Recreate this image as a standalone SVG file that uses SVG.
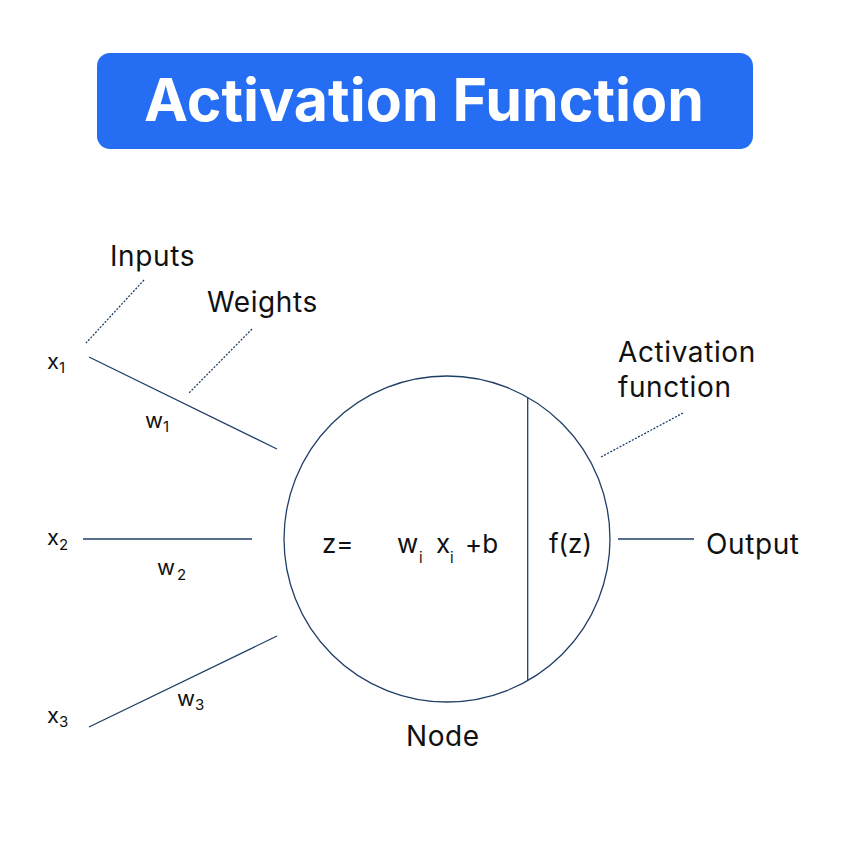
<svg xmlns="http://www.w3.org/2000/svg" width="851" height="851" viewBox="0 0 851 851">
<style>
.t{font-family:Inter,"Liberation Sans",sans-serif;fill:#111;}
.lbl{font-size:28px;letter-spacing:0.6px;}
.eq{font-size:26px;}
.var{font-size:22px;}
.sub{font-size:15px;}
.ln{stroke:#1f3f66;stroke-width:1.3;fill:none;}
.dot{stroke:#1f3f66;stroke-width:1.3;fill:none;stroke-dasharray:2 1.5;}
</style>
<rect width="851" height="851" fill="#fff"/>
<g id="title">
<rect x="97" y="53" width="656" height="96" rx="13" fill="#256ef4"/>
<text x="424" y="121" text-anchor="middle" style="font-family:Inter,'Liberation Sans',sans-serif;font-weight:700;font-size:59px;fill:#fff">Activation Function</text>
</g>
<g id="connectors">
<line class="ln" x1="89" y1="357" x2="277" y2="449"/>
<line class="ln" x1="83" y1="539" x2="252" y2="539"/>
<line class="ln" x1="89" y1="727" x2="277" y2="636"/>
<line class="ln" x1="618" y1="539" x2="694" y2="539"/>
<line class="dot" x1="144" y1="280" x2="86" y2="343"/>
<line class="dot" x1="252" y1="329" x2="189" y2="393"/>
<line class="dot" x1="683" y1="413" x2="601" y2="457"/>
</g>
<g id="node">
<circle class="ln" cx="447" cy="539" r="163"/>
<line class="ln" x1="527.7" y1="397.4" x2="527.7" y2="680.6"/>
<text class="t eq" x="322" y="553">z=</text>
<text class="t eq" x="397" y="553">w</text>
<text class="t sub" x="419" y="563">i</text>
<text class="t eq" x="436" y="553">x</text>
<text class="t sub" x="450" y="563">i</text>
<text class="t eq" x="465" y="553">+b</text>
<text class="t eq" x="549" y="553">f(z)</text>
<text class="t lbl" x="406" y="746">Node</text>
</g>
<g id="inputs-label"><text class="t lbl" x="110" y="266">Inputs</text></g>
<g id="weights-label"><text class="t lbl" x="207" y="312">Weights</text></g>
<g id="activation-label">
<text class="t lbl" x="618" y="362">Activation</text>
<text class="t lbl" x="618" y="397">function</text>
</g>
<g id="output-label"><text class="t lbl" x="706" y="554">Output</text></g>
<g id="x1"><text class="t var" x="47" y="369">x<tspan class="sub" dy="4">1</tspan></text></g>
<g id="w1"><text class="t var" x="145" y="428">w<tspan class="sub" dy="4">1</tspan></text></g>
<g id="x2"><text class="t var" x="47" y="545">x<tspan class="sub" dy="5">2</tspan></text></g>
<g id="w2"><text class="t var" x="157" y="575">w<tspan class="sub" dy="5" dx="2">2</tspan></text></g>
<g id="x3"><text class="t var" x="47" y="723">x<tspan class="sub" dy="4">3</tspan></text></g>
<g id="w3"><text class="t var" x="177" y="706">w<tspan class="sub" dy="4">3</tspan></text></g>
</svg>
